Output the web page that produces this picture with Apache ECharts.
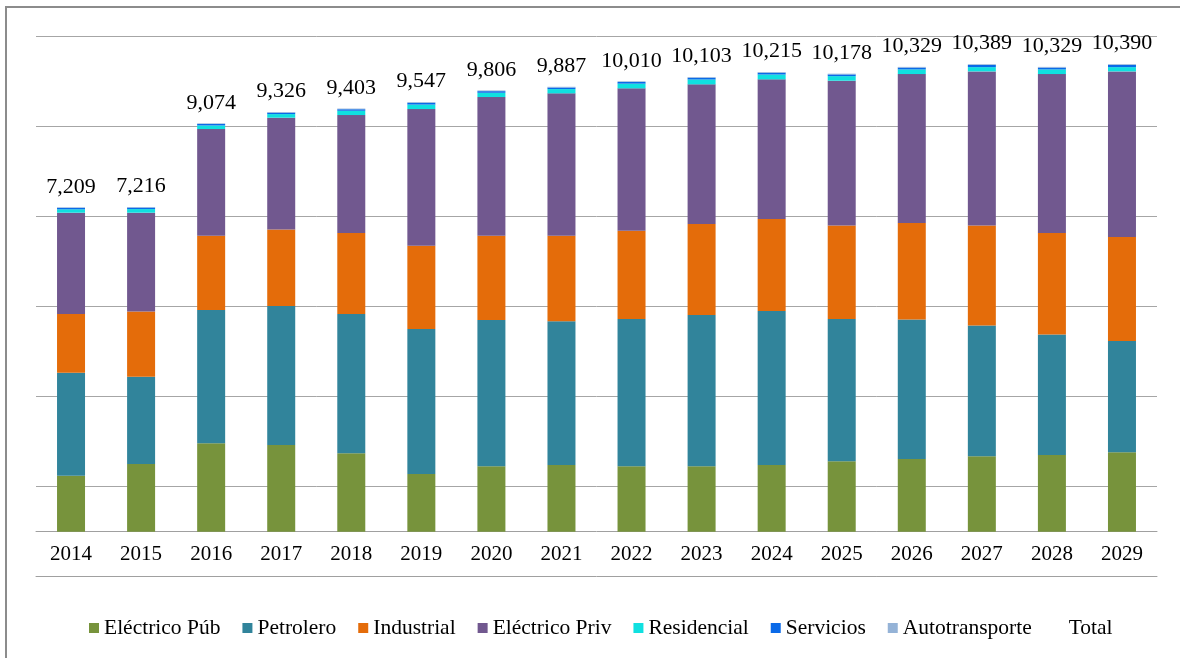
<!DOCTYPE html>
<html>
<head>
<meta charset="utf-8">
<script src="https://cdn.jsdelivr.net/npm/echarts@6/dist/echarts.min.js"></script>
<style>
  html, body { margin: 0; padding: 0; background: #fff; }
  #chart { width: 1180px; height: 658px; }
</style>
</head>
<body>
<div id="chart"></div>
<script>
// years on the x axis
const years = ['2014', '2015', '2016', '2017', '2018', '2019', '2020', '2021',
               '2022', '2023', '2024', '2025', '2026', '2027', '2028', '2029'];

// stacked segments
const electricoPub   = [1244, 1504, 1963, 1926, 1741, 1281, 1452, 1481, 1452, 1452, 1481, 1563, 1615, 1674, 1704, 1763];
const petrolero      = [2289, 1940, 2963, 3089, 3096, 3223, 3252, 3193, 3274, 3363, 3423, 3163, 3103, 2911, 2681, 2474];
const industrial     = [1304, 1452, 1652, 1703, 1800, 1851, 1874, 1904, 1963, 2022, 2044, 2081, 2141, 2222, 2252, 2311];
const electricoPriv  = [2252, 2193, 2370, 2482, 2622, 3037, 3081, 3163, 3163, 3104, 3104, 3215, 3311, 3422, 3533, 3681];
const residencial    = [75, 80, 80, 80, 95, 100, 95, 95, 105, 108, 108, 102, 103, 95, 103, 95];
const servicios      = [32, 33, 32, 32, 34, 38, 36, 35, 37, 38, 39, 38, 40, 48, 40, 49];
const autotransporte = [13, 14, 14, 14, 15, 17, 16, 16, 16, 16, 16, 16, 16, 17, 16, 17];
const total          = [7209, 7216, 9074, 9326, 9403, 9547, 9806, 9887, 10010, 10103, 10215, 10178, 10329, 10389, 10329, 10390];

const serif = '"Liberation Serif", "Times New Roman", serif';

const stackParts = [
  { name: 'Eléctrico Púb', data: electricoPub, color: '#77933c' },
  { name: 'Petrolero', data: petrolero, color: '#31849b' },
  { name: 'Industrial', data: industrial, color: '#e46c0a' },
  { name: 'Eléctrico Priv', data: electricoPriv, color: '#71588f' },
  { name: 'Residencial', data: residencial, color: '#10e0e0' },
  { name: 'Servicios', data: servicios, color: '#0a6ae8' },
  { name: 'Autotransporte', data: autotransporte, color: '#95b3d7' }
];

const series = stackParts.map(p => ({
  name: p.name,
  type: 'bar',
  stack: 'total',
  barWidth: 28,
  data: p.data,
  itemStyle: { color: p.color }
}));

series.push({
  name: 'Total',
  type: 'line',
  data: total,
  symbol: 'circle',
  symbolSize: 1,
  itemStyle: { color: 'rgba(0,0,0,0)' },
  lineStyle: { opacity: 0, width: 0 },
  label: {
    show: true,
    position: 'top',
    distance: 9,
    color: '#000',
    fontFamily: serif,
    fontSize: 22,
    formatter: p => p.value.toLocaleString('en-US')
  },
  z: 5
});

const chart = echarts.init(document.getElementById('chart'));
chart.setOption({
  backgroundColor: '#fff',
  animation: false,
  grid: { left: 36, right: 23, top: 36.7, bottom: 126.3 },
  legend: {
    left: 84,
    top: 612,
    icon: 'rect',
    itemWidth: 10,
    itemHeight: 10,
    itemGap: 22,
    textStyle: { fontFamily: serif, fontSize: 21.5, color: '#000' },
    data: stackParts.map(p => p.name).concat([{ name: 'Total', itemStyle: { opacity: 0 }, lineStyle: { opacity: 0 } }])
  },
  xAxis: [
    {
      type: 'category',
      data: years,
      axisLine: { lineStyle: { color: '#a0a0a0', width: 1 } },
      axisTick: { length: 5, lineStyle: { color: '#a0a0a0' } },
      axisLabel: { color: '#000', fontFamily: serif, fontSize: 21, margin: 12 }
    },
    {
      type: 'category',
      data: years,
      position: 'bottom',
      offset: 45,
      axisLine: { lineStyle: { color: '#a0a0a0', width: 1 } },
      axisTick: { show: false },
      axisLabel: { show: false }
    }
  ],
  yAxis: {
    type: 'value',
    min: 0,
    max: 11000,
    interval: 1000,
    axisLabel: { show: false },
    axisLine: { show: false },
    axisTick: { show: false },
    splitLine: { lineStyle: { color: ['rgba(0,0,0,0)', '#a6a6a6'], width: 1 } }
  },
  graphic: [
    {
      type: 'polyline',
      shape: { points: [[6, 658], [6, 7], [1180, 7]] },
      style: { stroke: '#8c8c8c', lineWidth: 2, fill: null }
    }
  ],
  series: series
});
</script>
</body>
</html>
